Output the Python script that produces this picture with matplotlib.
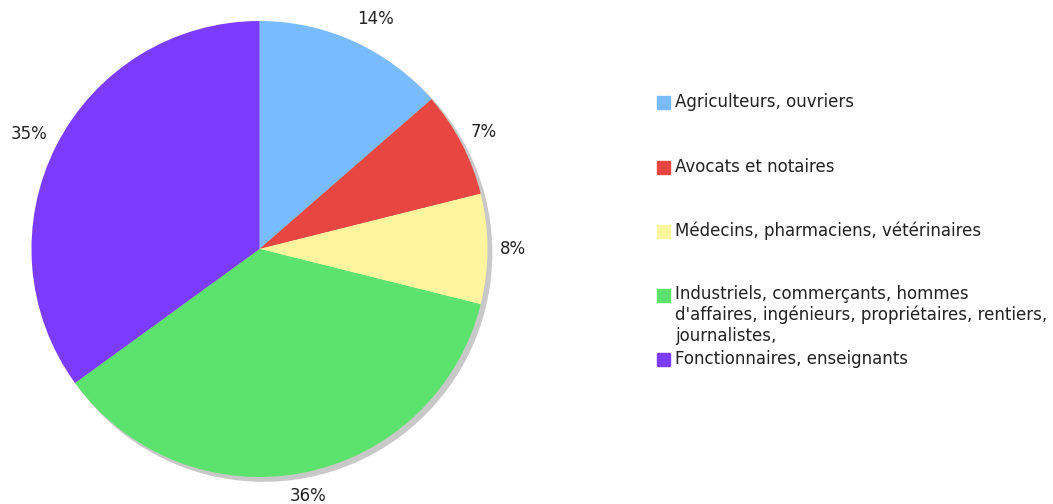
import matplotlib.pyplot as plt
from matplotlib.patches import Circle, Rectangle

labels = ["Agriculteurs, ouvriers",
          "Avocats et notaires",
          "Médecins, pharmaciens, vétérinaires",
          "Industriels, commerçants, hommes\nd'affaires, ingénieurs, propriétaires, rentiers,\njournalistes,",
          "Fonctionnaires, enseignants"]
values = [13.6, 7.5, 7.8, 36.1, 35.0]
pct_labels = ["14%", "7%", "8%", "36%", "35%"]
colors = ["#78bbff", "#e84640", "#fff59e", "#5ce36d", "#7c3cff"]

plt.rcParams['font.family'] = ['DejaVu Sans']
fig = plt.figure(figsize=(10.53, 5.04), dpi=100)

# pie axes placed in pixels: x 31..488, y 21..477
ax = fig.add_axes([31.5 / 1053, (504 - 477) / 504, 456 / 1053, 456 / 504])
ax.set_aspect('equal')
ax.axis('off')

# shadow
ax.add_patch(Circle((0.018, -0.018), 1.0, color="#c8c8c8", zorder=0, clip_on=False))

wedges, texts = ax.pie(values, colors=colors, startangle=90, counterclock=False,
                       radius=1.0, labels=pct_labels, labeldistance=1.11,
                       wedgeprops=dict(linewidth=0),
                       textprops=dict(fontsize=12, color="#222222"))
for w in wedges:
    w.set_zorder(1)
    w.set_clip_on(False)
for t in texts:
    t.set_clip_on(False)
    t.set_ha('center')
    t.set_va('center')
# small nudges to match label spots
texts[0].set_x(texts[0].get_position()[0] + 0.05)
texts[3].set_y(texts[3].get_position()[1] + 0.005)
texts[4].set_x(texts[4].get_position()[0] - 0.02)
ax.set_xlim(-1, 1)
ax.set_ylim(-1, 1)

# legend drawn by hand
ys = [102, 167, 231, 295, 359]
for lab, col, y in zip(labels, colors, ys):
    fig.patches.append(Rectangle((657 / 1053, (504 - y - 7) / 504), 13 / 1053, 13 / 504,
                                 transform=fig.transFigure, color=col))
    if '\n' in lab:
        fig.text(675 / 1053, (504 - y + 10) / 504, lab, fontsize=12, color="#222222",
                 va='top', ha='left', linespacing=1.2)
    else:
        fig.text(675 / 1053, (504 - y) / 504, lab, fontsize=12, color="#222222",
                 va='center', ha='left')

fig.savefig("out.png", dpi=100)
